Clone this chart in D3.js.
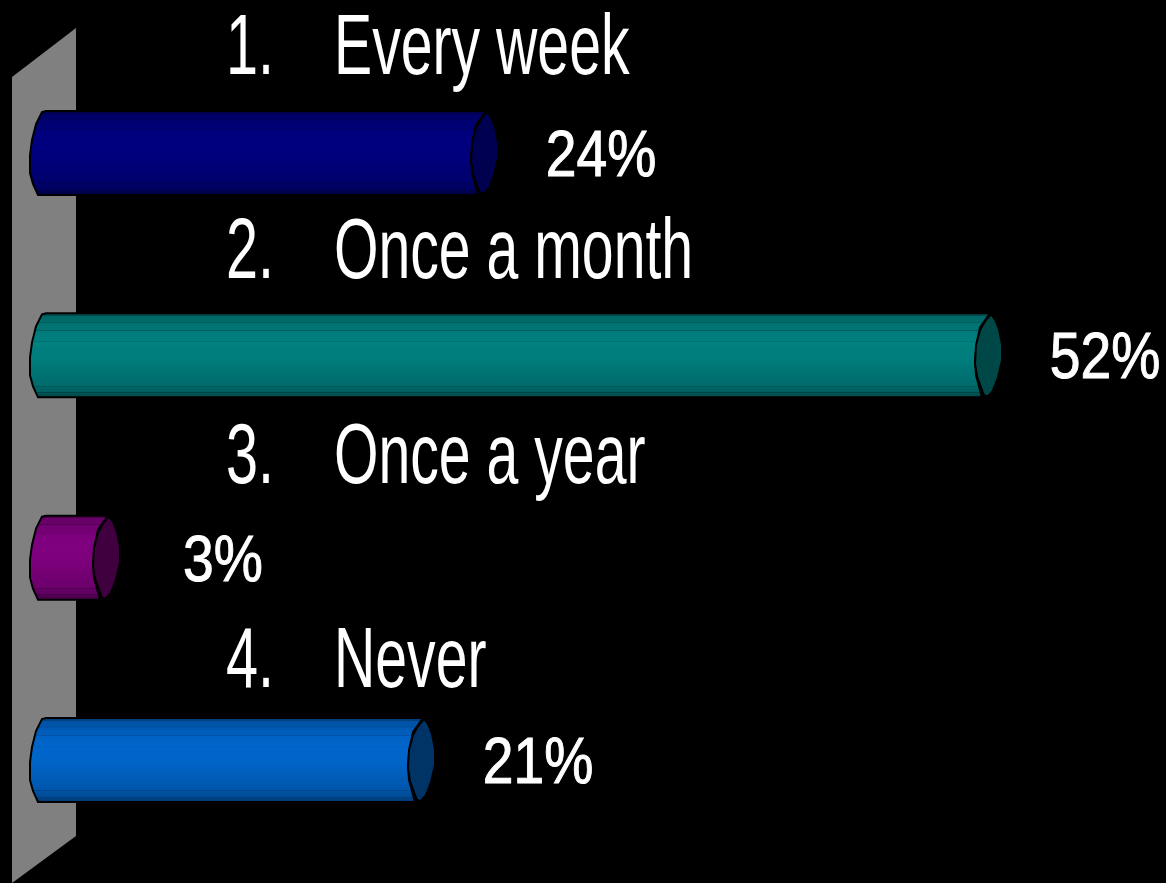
<!DOCTYPE html>
<html><head><meta charset="utf-8">
<script src="https://cdn.jsdelivr.net/npm/d3@7"></script>
<style>html,body{margin:0;padding:0;background:#000;overflow:hidden}svg{display:block}text{font-family:"Liberation Sans",Arial,sans-serif;fill:#fff}</style>
</head><body><svg id="c" width="1166" height="883"></svg>
<script>
const numbers = ["1.","2.","3.","4."];
const categories = ["Every week","Once a month","Once a year","Never"];
const values = [24,52,3,20.5];
const valueLabels = ["24%","52%","3%","21%"];
const bodyColors = ["#000080","#008080","#800080","#0066cc"];
const capColors = ["#000050","#004848","#400040","#003366"];

const W=1166,H=883;
const svg=d3.select("#c");
const x=d3.scaleLinear().domain([0,52]).range([52,988]);
const y=d3.scalePoint().domain(categories).range([153,760]);
const yTitle=d3.scalePoint().domain(categories).range([74,687]);
const line=d3.line();
const defs=svg.append("defs");
const wall=[[12,77],[76,28],[76,836],[12,883]];
svg.append("rect").attr("width",W).attr("height",H).attr("fill","#000");
svg.append("path").attr("d",line(wall)+"Z").attr("fill","#808080");

const stops=[[0,.6],[.03,.62],[.03,.8],[.1,.84],[.105,.62],[.115,.88],[.2,.92],[.205,.72],[.215,.96],[.33,1],[.335,.88],[.345,1],[.55,.97],[.75,.88],[.86,.84],[.865,.58],[.875,.8],[.935,.74],[.94,.5],[.95,.66],[1,.55]];
bodyColors.forEach((c,i)=>{
  const g=defs.append("linearGradient").attr("id","g"+i).attr("x1",0).attr("x2",0).attr("y1",0).attr("y2",1);
  stops.forEach(s=>{
    g.append("stop").attr("offset",s[0]).attr("stop-color",d3.interpolateRgb("#000",c)(s[1]));
  });
});
const rows=svg.selectAll("g.row").data(categories).join("g").attr("class","row");
rows.each(function(cat,i){
  const g=d3.select(this),cy=y(cat),x1=x(values[i]),x0=x(0);
  const body=[[x1+2,cy-42],[x0-6,cy-42],[x0-10,cy-41],[x0-16,cy-29],[x0-20,cy-13],[x0-22,cy+2],[x0-22,cy+20],[x0-19,cy+31],[x0-14,cy+42],[x1-6,cy+42],[x1-12,cy+20],[x1-13,cy+5],[x1-11,cy-14],[x1-8,cy-28]];
  g.append("path").attr("d",line(body)+"Z").attr("fill",`url(#g${i})`).attr("stroke","#000").attr("stroke-width",2).attr("stroke-linejoin","miter");
  const cap=[[x1+3,cy-41],[x1-3,cy-34],[x1-8,cy-25],[x1-12,cy-10],[x1-13,cy+8],[x1-11,cy+21],[x1-7,cy+32],[x1-4,cy+40],[x1,cy+41],[x1+5,cy+35],[x1+10,cy+22],[x1+14,cy+5],[x1+14,cy-11],[x1+11,cy-26],[x1+7,cy-36]];
  g.append("path").attr("d",line(cap)+"Z").attr("fill",capColors[i]).attr("stroke","#000").attr("stroke-width",2);
  g.append("text").attr("transform",`translate(${x1+117},${cy+23}) scale(.85,1)`).attr("text-anchor","middle").attr("font-size",65).attr("stroke","#fff").attr("stroke-width",1).text(valueLabels[i]);
  const base=yTitle(cat);
  g.append("text").attr("transform",`translate(226,${base}) scale(.67,1)`).attr("font-size",86).text(numbers[i]);
  g.append("text").attr("transform",`translate(334,${base}) scale(.665,1)`).attr("font-size",86).text(cat);
});
</script></body></html>
